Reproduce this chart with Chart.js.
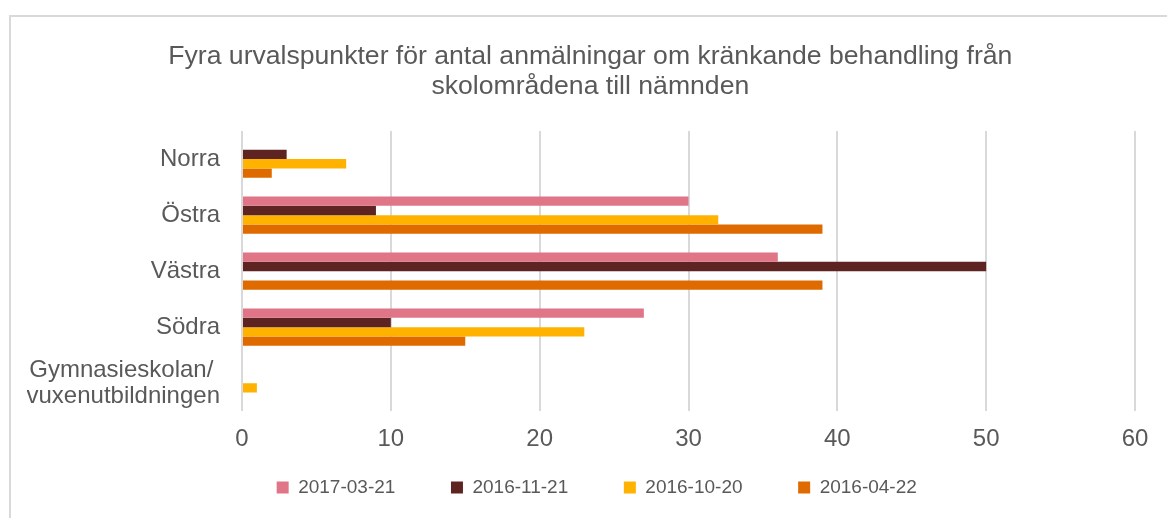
<!DOCTYPE html>
<html>
<head>
<meta charset="utf-8">
<script src="https://cdn.jsdelivr.net/npm/chart.js@4/dist/chart.umd.min.js"></script>
<style>
  body { margin: 0; background: #fff; }
  .ram { position: absolute; left: 9px; top: 15px; width: 1200px; height: 560px; border: 2px solid #d9d9d9; }
  .yta { position: absolute; left: 0; top: 0; width: 1167px; height: 518px; }
</style>
</head>
<body>
<grafico-barras></grafico-barras>
<script>
// data
var kategorier = ['Norra', 'Östra', 'Västra', 'Södra', ['Gymnasieskolan/ ', 'vuxenutbildningen']];
var serier = ['2017-03-21', '2016-11-21', '2016-10-20', '2016-04-22'];
var v20170321 = [0, 30, 36, 27, 0];
var v20161121 = [3, 9, 50, 10, 0];
var v20161020 = [7, 32, 0, 23, 1];
var v20160422 = [2, 39, 39, 15, 0];
var xTicks = [0, 10, 20, 30, 40, 50, 60];
var titel = ['Fyra urvalspunkter för antal anmälningar om kränkande behandling från', 'skolområdena till nämnden'];

var farger = ['#e07587', '#5e2421', '#ffb300', '#de6a00'];
var grå = '#595959';

class grafico extends HTMLElement {

    constructor() {
        super();
    }

    barras() {
        var ctx = document.getElementById('myChart');
        var varden = [v20170321, v20161121, v20161020, v20160422];
        var datasets = serier.map(function (namn, i) {
            return {
                label: namn,
                data: varden[i],
                backgroundColor: farger[i],
                borderWidth: 0,
                barPercentage: 1,
                categoryPercentage: 0.667
            };
        });

        new Chart(ctx, {
            type: 'bar',
            data: { labels: kategorier, datasets: datasets },
            options: {
                indexAxis: 'y',
                responsive: false,
                animation: false,
                layout: { padding: { left: 27, right: 32, top: 0, bottom: 11 } },
                scales: {
                    x: {
                        min: xTicks[0],
                        max: xTicks[xTicks.length - 1],
                        ticks: { stepSize: 10, color: grå, padding: 14, font: { family: 'Liberation Sans', size: 24 } },
                        grid: { color: '#d9d9d9', lineWidth: 2, drawTicks: false },
                        border: { display: false }
                    },
                    y: {
                        afterFit: function (s) { s.width = 215; },
                        ticks: { autoSkip: false, color: grå, padding: 22, font: { family: 'Liberation Sans', size: 24, lineHeight: 1.1 } },
                        grid: { display: false, drawTicks: false },
                        border: { display: false }
                    }
                },
                plugins: {
                    title: {
                        display: true,
                        // blanksteg först flyttar rubriken lite åt höger
                        text: titel.map(function (t) { return '\u2002\u2009' + t; }),
                        color: grå,
                        font: { family: 'Liberation Sans', size: 26.6, weight: 'normal', lineHeight: 1.13 },
                        padding: { top: 42, bottom: 29 }
                    },
                    legend: {
                        position: 'bottom',
                        labels: {
                            color: grå,
                            boxWidth: 12,
                            boxHeight: 12,
                            padding: 10,
                            font: { family: 'Liberation Sans', size: 19 },
                            generateLabels: function (chart) {
                                var items = Chart.defaults.plugins.legend.labels.generateLabels(chart);
                                items.forEach(function (it, i) {
                                    if (i < items.length - 1) it.text = it.text + '\u2003\u2003\u2009\u2009';
                                });
                                // osynlig post först, skjuter förklaringen lite åt höger
                                items.unshift({ text: '', fillStyle: 'rgba(0,0,0,0)', strokeStyle: 'rgba(0,0,0,0)', lineWidth: 0, hidden: false });
                                return items;
                            }
                        }
                    },
                    tooltip: { enabled: false }
                }
            }
        });
    }

    connectedCallback() {
        this.innerHTML = `
        <div class="ram"></div>
        <canvas id="myChart" class="yta" width="1167" height="518"></canvas>`;
        this.barras();
    }
}

window.customElements.define("grafico-barras", grafico);
</script>
</body>
</html>
